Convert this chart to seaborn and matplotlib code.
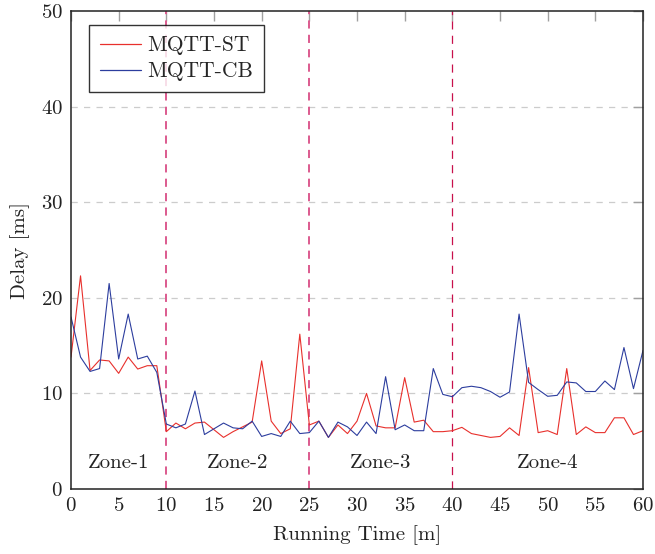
import numpy as np
import pandas as pd
import matplotlib
matplotlib.use("Agg")
import matplotlib.pyplot as plt
import seaborn as sns

time_m = list(range(0, 61))
mqtt_st = [13.8, 22.3, 12.4, 13.5, 13.4, 12.1, 13.8, 12.55, 12.9, 12.9,
           6.0, 6.9, 6.3, 6.9, 7.0, 6.2, 5.4, 6.0, 6.5, 7.0,
           13.4, 7.1, 5.8, 6.3, 16.2, 6.7, 7.1, 5.4, 6.7, 5.8,
           7.1, 10.0, 6.6, 6.4, 6.4, 11.65, 7.0, 7.2, 6.0, 6.0,
           6.1, 6.45, 5.8, 5.6, 5.4, 5.5, 6.4, 5.6, 12.7, 5.9,
           6.1, 5.7, 12.6, 5.7, 6.5, 5.9, 5.9, 7.45, 7.45, 5.7, 6.1]
mqtt_cb = [18.0, 13.8, 12.3, 12.6, 21.5, 13.6, 18.3, 13.6, 13.9, 12.2,
           6.8, 6.4, 6.8, 10.25, 5.7, 6.3, 6.9, 6.4, 6.3, 7.1,
           5.5, 5.8, 5.5, 7.1, 5.8, 5.9, 7.1, 5.4, 7.0, 6.5,
           5.6, 7.0, 5.8, 11.75, 6.2, 6.7, 6.1, 6.1, 12.6, 9.9,
           9.65, 10.6, 10.75, 10.6, 10.2, 9.6, 10.15, 18.3, 11.15, 10.4,
           9.7, 9.8, 11.2, 11.1, 10.2, 10.2, 11.3, 10.4, 14.8, 10.5, 14.5]
series_names = ["MQTT-ST", "MQTT-CB"]
zone_labels = ["Zone-1", "Zone-2", "Zone-3", "Zone-4"]
zone_label_x = [5, 17.5, 32.5, 50]
zone_bounds = [10, 25, 40]
x_ticks = list(range(0, 61, 5))
y_ticks = list(range(0, 51, 10))

df = pd.DataFrame({
    "Running Time [m]": time_m * 2,
    "Delay [ms]": mqtt_st + mqtt_cb,
    "series": [series_names[0]] * len(time_m) + [series_names[1]] * len(time_m),
})

sns.set_style("white")
plt.rcParams["font.family"] = ["cmr10", "DejaVu Serif"]
plt.rcParams["axes.formatter.use_mathtext"] = True
plt.rcParams["font.size"] = 15

fig = plt.figure(figsize=(6.55, 5.54), dpi=100)
ax = fig.add_axes([0.1084, 0.1173, 0.8733, 0.8628])

palette = {"MQTT-ST": "#e8302c", "MQTT-CB": "#2c3d9e"}
sns.lineplot(data=df, x="Running Time [m]", y="Delay [ms]", hue="series",
             palette=palette, linewidth=0.8, ax=ax, legend=True)

for yv in y_ticks[1:-1]:
    ax.axhline(yv, color="#cccccc", linestyle=(0, (5, 5)), linewidth=0.9, zorder=0)

vstyles = [("#dc5a8e", 1.4, (4.2, 3.2)), ("#dc5a8e", 1.4, (4.2, 3.2)),
           ("#c8104c", 0.9, (6.5, 5.0))]
for xv, (c, lw, dash) in zip(zone_bounds, vstyles):
    ax.axvline(xv, color=c, linestyle=(0, dash), linewidth=lw, zorder=1)

for lab, xv in zip(zone_labels, zone_label_x):
    ax.text(xv, 2.7, lab, ha="center", va="center", fontsize=15, color="#222222")

ax.set_xlim(0, 60)
ax.set_ylim(0, 50)
ax.set_xticks(x_ticks)
ax.set_yticks(y_ticks)
ax.set_xlabel("Running Time [m]", fontsize=15, color="#222222", labelpad=7)
ax.set_ylabel("Delay [ms]", fontsize=15, color="#222222", labelpad=8)
ax.tick_params(axis="both", which="major", direction="in", length=7, width=1.0,
               color="#a0a0a0", labelsize=15, labelcolor="#222222",
               top=True, right=True, pad=6)
for s in ax.spines.values():
    s.set_color("#222222")
    s.set_linewidth(1.1)

leg = ax.legend(loc="upper left", bbox_to_anchor=(0.0315, 0.9707), borderaxespad=0,
                frameon=True, fancybox=False, edgecolor="black", fontsize=15.5,
                handlelength=1.9, handletextpad=0.3, borderpad=0.5, labelspacing=0.3)
leg.get_frame().set_linewidth(1.0)
for h in leg.get_lines():
    h.set_linewidth(0.9)

fig.savefig("out.png", dpi=100)
